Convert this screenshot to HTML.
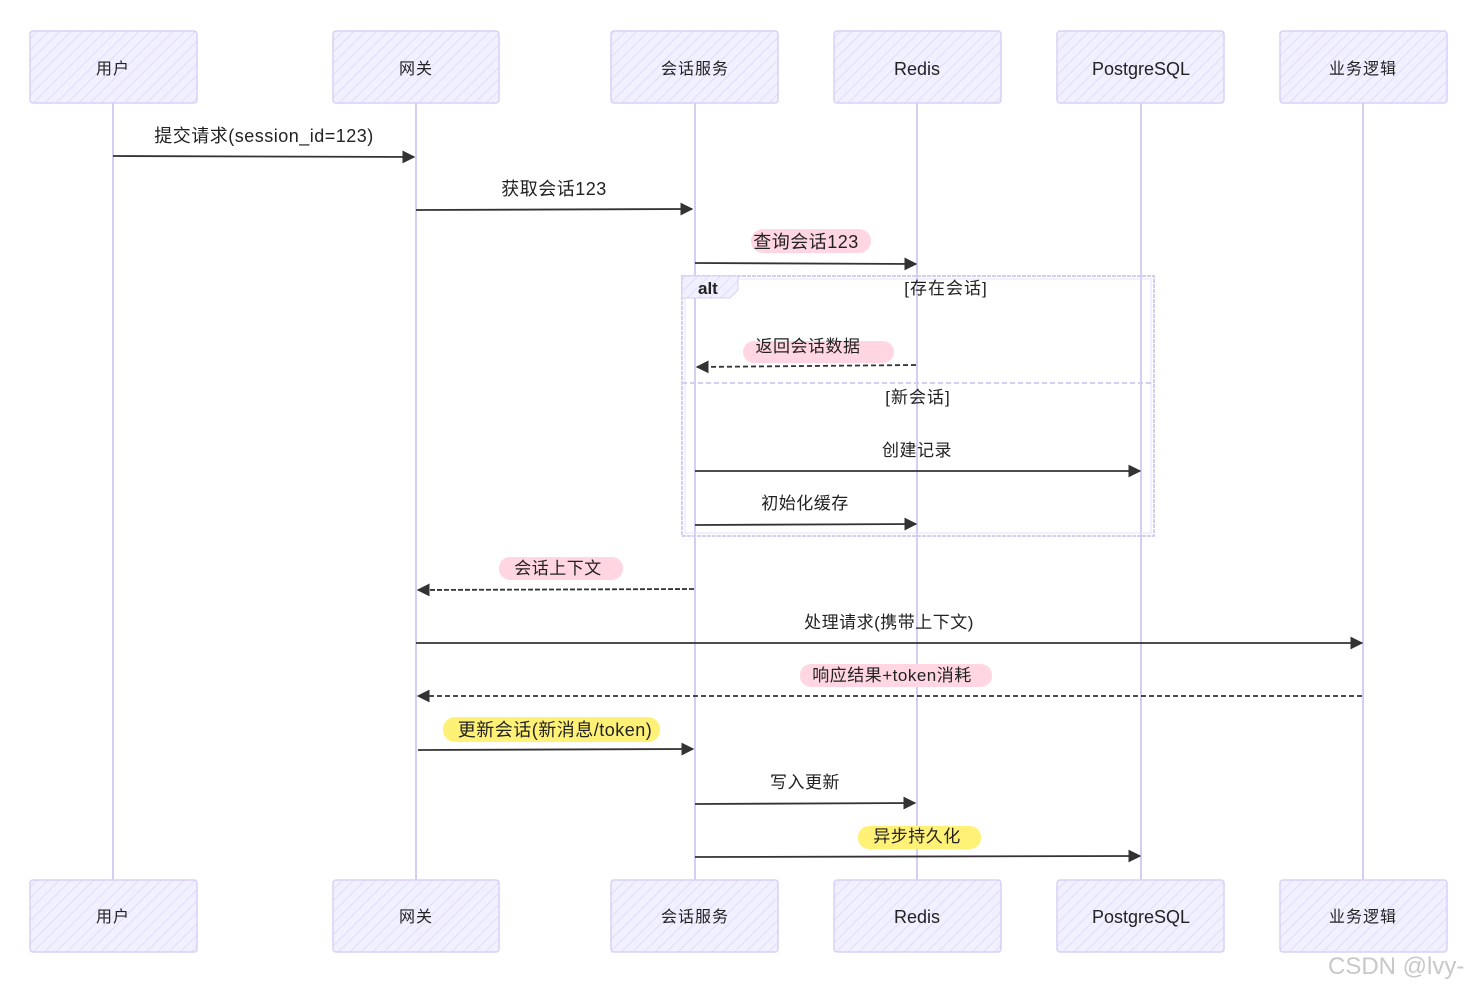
<!DOCTYPE html>
<html><head><meta charset="utf-8"><style>
html,body{margin:0;padding:0;background:#fff;}
svg{display:block;}
text{font-family:"Liberation Sans","Noto Sans CJK SC",sans-serif;fill:#222;}
</style></head><body>
<svg width="1477" height="990" viewBox="0 0 1477 990" xmlns="http://www.w3.org/2000/svg">
<defs>
<pattern id="h" width="8" height="8" patternUnits="userSpaceOnUse" patternTransform="rotate(45)">
<rect width="8" height="8" fill="#f1f0ff"/><line x1="0" y1="0" x2="0" y2="8" stroke="#e0dcfa" stroke-width="2"/>
</pattern>
<marker id="a" viewBox="0 0 10 10" refX="9" refY="5" markerWidth="13" markerHeight="13" orient="auto-start-reverse" markerUnits="userSpaceOnUse">
<path d="M0,0 L10,5 L0,10 z" fill="#333"/></marker>
</defs>
<g stroke="#d6cdf2" stroke-width="2">
<line x1="113" y1="103" x2="113" y2="880"/><line x1="416" y1="103" x2="416" y2="880"/>
<line x1="695" y1="103" x2="695" y2="880"/><line x1="917" y1="103" x2="917" y2="880"/>
<line x1="1141" y1="103" x2="1141" y2="880"/><line x1="1363" y1="103" x2="1363" y2="880"/>
</g>
<g fill="url(#h)" stroke="#d9d0f5" stroke-width="1.5">
<rect x="30" y="31" width="167" height="72" rx="3"/><rect x="333" y="31" width="166" height="72" rx="3"/>
<rect x="611" y="31" width="167" height="72" rx="3"/><rect x="834" y="31" width="167" height="72" rx="3"/>
<rect x="1057" y="31" width="167" height="72" rx="3"/><rect x="1280" y="31" width="167" height="72" rx="3"/>
<rect x="30" y="880" width="167" height="72" rx="3"/><rect x="333" y="880" width="166" height="72" rx="3"/>
<rect x="611" y="880" width="167" height="72" rx="3"/><rect x="834" y="880" width="167" height="72" rx="3"/>
<rect x="1057" y="880" width="167" height="72" rx="3"/><rect x="1280" y="880" width="167" height="72" rx="3"/>
</g>
<g text-anchor="middle" font-size="16" letter-spacing="1">
<text x="113" y="74">用户</text><text x="416" y="74">网关</text><text x="695" y="74">会话服务</text>
<text x="917" y="75" font-size="18" letter-spacing="0">Redis</text><text x="1141" y="75" font-size="18" letter-spacing="0">PostgreSQL</text><text x="1363" y="74">业务逻辑</text>
<text x="113" y="922">用户</text><text x="416" y="922">网关</text><text x="695" y="922">会话服务</text>
<text x="917" y="923" font-size="18" letter-spacing="0">Redis</text><text x="1141" y="923" font-size="18" letter-spacing="0">PostgreSQL</text><text x="1363" y="922">业务逻辑</text>
</g>
<!-- alt frame -->
<rect x="682" y="276" width="472" height="260" fill="none" stroke="#d6cdf2" stroke-width="2" stroke-dasharray="4,1"/>
<rect x="685" y="279" width="466" height="254" fill="none" stroke="#e6e0fa" stroke-width="1"/>
<path d="M682,276 H738 V290 L730,298 H682 z" fill="url(#h)" stroke="#d9d0f5"/>
<text x="698" y="294" font-size="17" font-weight="bold">alt</text>
<line x1="682" y1="383" x2="1154" y2="383" stroke="#d6cdf2" stroke-width="2" stroke-dasharray="5,3"/>
<g text-anchor="middle" font-size="17" letter-spacing="1">
<text x="946" y="294">[存在会话]</text><text x="918" y="403">[新会话]</text>
</g>
<!-- highlights -->
<g>
<rect x="751" y="229" width="120" height="24" rx="12" fill="#ffd6e2"/>
<rect x="743" y="341" width="151" height="22" rx="11" fill="#ffd6e2"/>
<rect x="499" y="557" width="124" height="23" rx="11" fill="#ffd6e2"/>
<rect x="800" y="664" width="192" height="23" rx="11" fill="#ffd6e2"/>
<rect x="443" y="717" width="217" height="25" rx="12" fill="#fff176"/>
<rect x="858" y="826" width="123" height="23" rx="11" fill="#fff176"/>
</g>
<!-- arrows -->
<g stroke="#333" stroke-width="1.8" fill="none" marker-end="url(#a)">
<line x1="113" y1="156" x2="414" y2="157"/>
<line x1="416" y1="210" x2="692" y2="209"/>
<line x1="695" y1="263" x2="916" y2="264"/>
<line x1="916" y1="365" x2="697" y2="367" stroke-dasharray="5,3"/>
<line x1="695" y1="471" x2="1140" y2="471"/>
<line x1="695" y1="525" x2="916" y2="524"/>
<line x1="694" y1="589" x2="418" y2="590" stroke-dasharray="5,2"/>
<line x1="416" y1="643" x2="1362" y2="643"/>
<line x1="1362" y1="696" x2="418" y2="696" stroke-dasharray="5,3"/>
<line x1="418" y1="750" x2="693" y2="749"/>
<line x1="695" y1="804" x2="915" y2="803"/>
<line x1="695" y1="857" x2="1140" y2="856"/>
</g>
<g text-anchor="middle" font-size="17" letter-spacing="0.5">
<text x="264" y="142" font-size="18">提交请求(session_id=123)</text>
<text x="554" y="195" font-size="18">获取会话123</text>
<text x="806" y="248" font-size="18">查询会话123</text>
<text x="808" y="352">返回会话数据</text>
<text x="917" y="456">创建记录</text>
<text x="805" y="509">初始化缓存</text>
<text x="558" y="574">会话上下文</text>
<text x="889" y="628">处理请求(携带上下文)</text>
<text x="892" y="681">响应结果+token消耗</text>
<text x="555" y="736" font-size="18">更新会话(新消息/token)</text>
<text x="805" y="788">写入更新</text>
<text x="917" y="842">异步持久化</text>
</g>
<text x="1328" y="974" font-size="24" style="fill:#c8c8c8">CSDN @lvy-</text>
</svg>
</body></html>
